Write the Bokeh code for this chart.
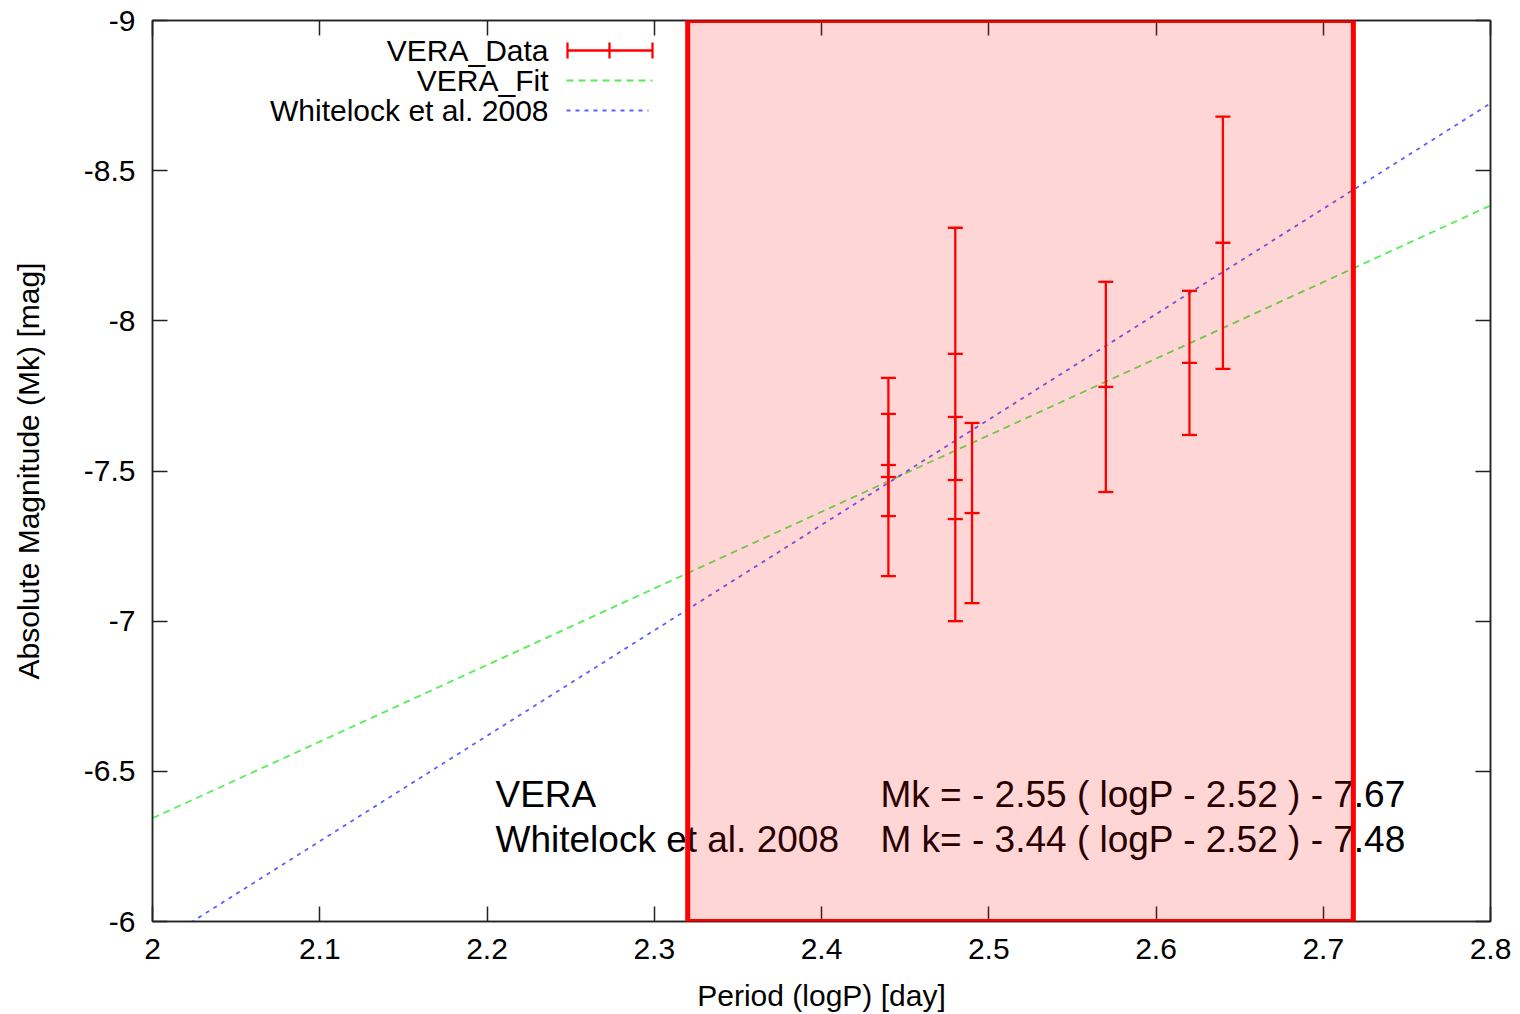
import numpy as np
from bokeh.plotting import figure
from bokeh.models import Range1d, LinearAxis, FixedTicker, BoxAnnotation, ColumnDataSource
from bokeh.core.properties import value
from bokeh.embed import file_html
from bokeh.resources import INLINE

# ---------------- data ----------------
logP = [2.44, 2.44, 2.48, 2.48, 2.49, 2.57, 2.62, 2.64]
Mk = [-7.48, -7.52, -7.89, -7.34, -7.36, -7.78, -7.86, -8.26]
Mk_err = [0.33, 0.17, 0.42, 0.34, 0.30, 0.35, 0.24, 0.42]

# fit lines: Mk = slope * (logP - pivot) + zero
vera_fit = dict(slope=-2.55, pivot=2.52, zero=-7.67)
whitelock_fit = dict(slope=-3.51, pivot=2.38, zero=-7.25)
fit_logP = [2.0, 2.8]

x_ticks = [2.0, 2.1, 2.2, 2.3, 2.4, 2.5, 2.6, 2.7, 2.8]
x_tick_labels = ["2", "2.1", "2.2", "2.3", "2.4", "2.5", "2.6", "2.7", "2.8"]
y_ticks = [-9.0, -8.5, -8.0, -7.5, -7.0, -6.5, -6.0]
y_tick_labels = ["-9", "-8.5", "-8", "-7.5", "-7", "-6.5", "-6"]

highlight_logP = [2.32, 2.718]

legend_labels = ["VERA_Data", "VERA_Fit", "Whitelock et al. 2008"]
note_names = ["VERA", "Whitelock et al. 2008"]
note_formulas = ["Mk = - 2.55 ( logP - 2.52 ) - 7.67",
                 "M k= - 3.44 ( logP - 2.52 ) - 7.48"]

FONT = "Liberation Sans"

# ---------------- figure ----------------
p = figure(frame_width=1338, frame_height=901,
           x_range=Range1d(2.0, 2.8), y_range=Range1d(-6.0, -9.0),
           output_backend="svg", toolbar_location=None,
           min_border_left=152, min_border_right=28, min_border_top=20, min_border_bottom=91,
           x_axis_label="Period (logP) [day]",
           y_axis_label="Absolute Magnitude (Mk) [mag]")
p.xgrid.visible = False
p.ygrid.visible = False
p.background_fill_color = "white"
p.border_fill_color = "white"
p.outline_line_color = "#222222"
p.outline_line_width = 1.5


def style_axis(ax, ticks, labels, show_labels=True):
    ax.ticker = FixedTicker(ticks=ticks)
    ax.major_tick_in = 15
    ax.major_tick_out = 0
    ax.minor_tick_line_color = None
    ax.axis_line_color = "#222222"
    ax.axis_line_width = 1.5
    ax.major_tick_line_color = "#222222"
    ax.major_tick_line_width = 1.5
    ax.major_label_text_font = FONT
    ax.major_label_text_color = "black"
    if show_labels:
        ax.major_label_overrides = {t: l for t, l in zip(ticks, labels)}
        ax.major_label_text_font_size = "30px"
    else:
        ax.major_label_overrides = {t: "" for t in ticks}
        ax.major_label_text_font_size = "2px"
        ax.major_label_standoff = 0


style_axis(p.xaxis[0], x_ticks, x_tick_labels)
style_axis(p.yaxis[0], y_ticks, y_tick_labels)
p.xaxis[0].major_label_standoff = 17
p.yaxis[0].major_label_standoff = 17
for ax in (p.xaxis[0], p.yaxis[0]):
    ax.axis_label_text_font = FONT
    ax.axis_label_text_font_size = "30px"
    ax.axis_label_text_font_style = "normal"
    ax.axis_label_text_color = "black"
p.xaxis[0].axis_label_standoff = 17
p.yaxis[0].axis_label_standoff = 36

top_ax = LinearAxis()
style_axis(top_ax, x_ticks, x_tick_labels, show_labels=False)
p.add_layout(top_ax, "above")
right_ax = LinearAxis()
style_axis(right_ax, y_ticks, y_tick_labels, show_labels=False)
p.add_layout(right_ax, "right")

# ---------------- fit lines ----------------
fx = np.array(fit_logP)
vera_y = vera_fit["slope"] * (fx - vera_fit["pivot"]) + vera_fit["zero"]
wl_y = whitelock_fit["slope"] * (fx - whitelock_fit["pivot"]) + whitelock_fit["zero"]
p.line(fx, vera_y, line_color="#55ee55", line_width=1.8, line_dash="7 5")
p.line(fx, wl_y, line_color="#5f5fff", line_width=1.8, line_dash="4 5")

# ---------------- error bars ----------------
x = np.array(logP)
y = np.array(Mk)
e = np.array(Mk_err)
src = ColumnDataSource(dict(x=x, y=y, lo=y - e, hi=y + e))
p.segment(x0="x", y0="lo", x1="x", y1="hi", source=src, line_color="red", line_width=2.3)
for col in ("lo", "hi", "y"):
    p.scatter(x="x", y=col, source=src, marker="dash", size=15, line_color="red", line_width=2.3)

# ---------------- legend (gnuplot style: text right, sample at right) ----------------
def dx(px):
    return 2.0 + (px - 152) / 1672.5


def dy(py):
    return -9.0 + (py - 20) / 300.33


rows = [dy(50), dy(80), dy(110)]
p.text(x=[dx(548)] * 3, y=rows, text=legend_labels, text_align="right", text_baseline="middle",
       text_font=value(FONT), text_font_size="30px", text_color="black")
p.segment(x0=[dx(567)], y0=[rows[0]], x1=[dx(652)], y1=[rows[0]], line_color="red", line_width=2.3)
p.scatter(x=[dx(567), dx(609), dx(652)], y=[rows[0]] * 3, marker="dash", angle=np.pi / 2,
          size=16, line_color="red", line_width=2.3)
p.segment(x0=[dx(566)], y0=[rows[1]], x1=[dx(652)], y1=[rows[1]], line_color="#55ee55",
          line_width=1.8, line_dash="7 5")
p.segment(x0=[dx(566)], y0=[rows[2]], x1=[dx(648)], y1=[rows[2]], line_color="#5f5fff",
          line_width=1.8, line_dash="4 5")

# ---------------- annotations ----------------
note_y = [dy(794), dy(839)]
p.text(x=[dx(495)] * 2, y=note_y, text=note_names, text_align="left", text_baseline="middle",
       text_font=value(FONT), text_font_size="37px", text_color="black")
p.text(x=[dx(880)] * 2, y=note_y, text=note_formulas, text_align="left", text_baseline="middle",
       text_font=value(FONT), text_font_size="37px", text_color="black")

# ---------------- highlighted region ----------------
box = BoxAnnotation(left=highlight_logP[0], right=highlight_logP[1], top=-9.0, bottom=-6.0,
                    fill_color="red", fill_alpha=0.16, line_color="red", line_width=5,
                    line_alpha=1.0)
p.add_layout(box)

open("out.html", "w").write(file_html(p, INLINE))
